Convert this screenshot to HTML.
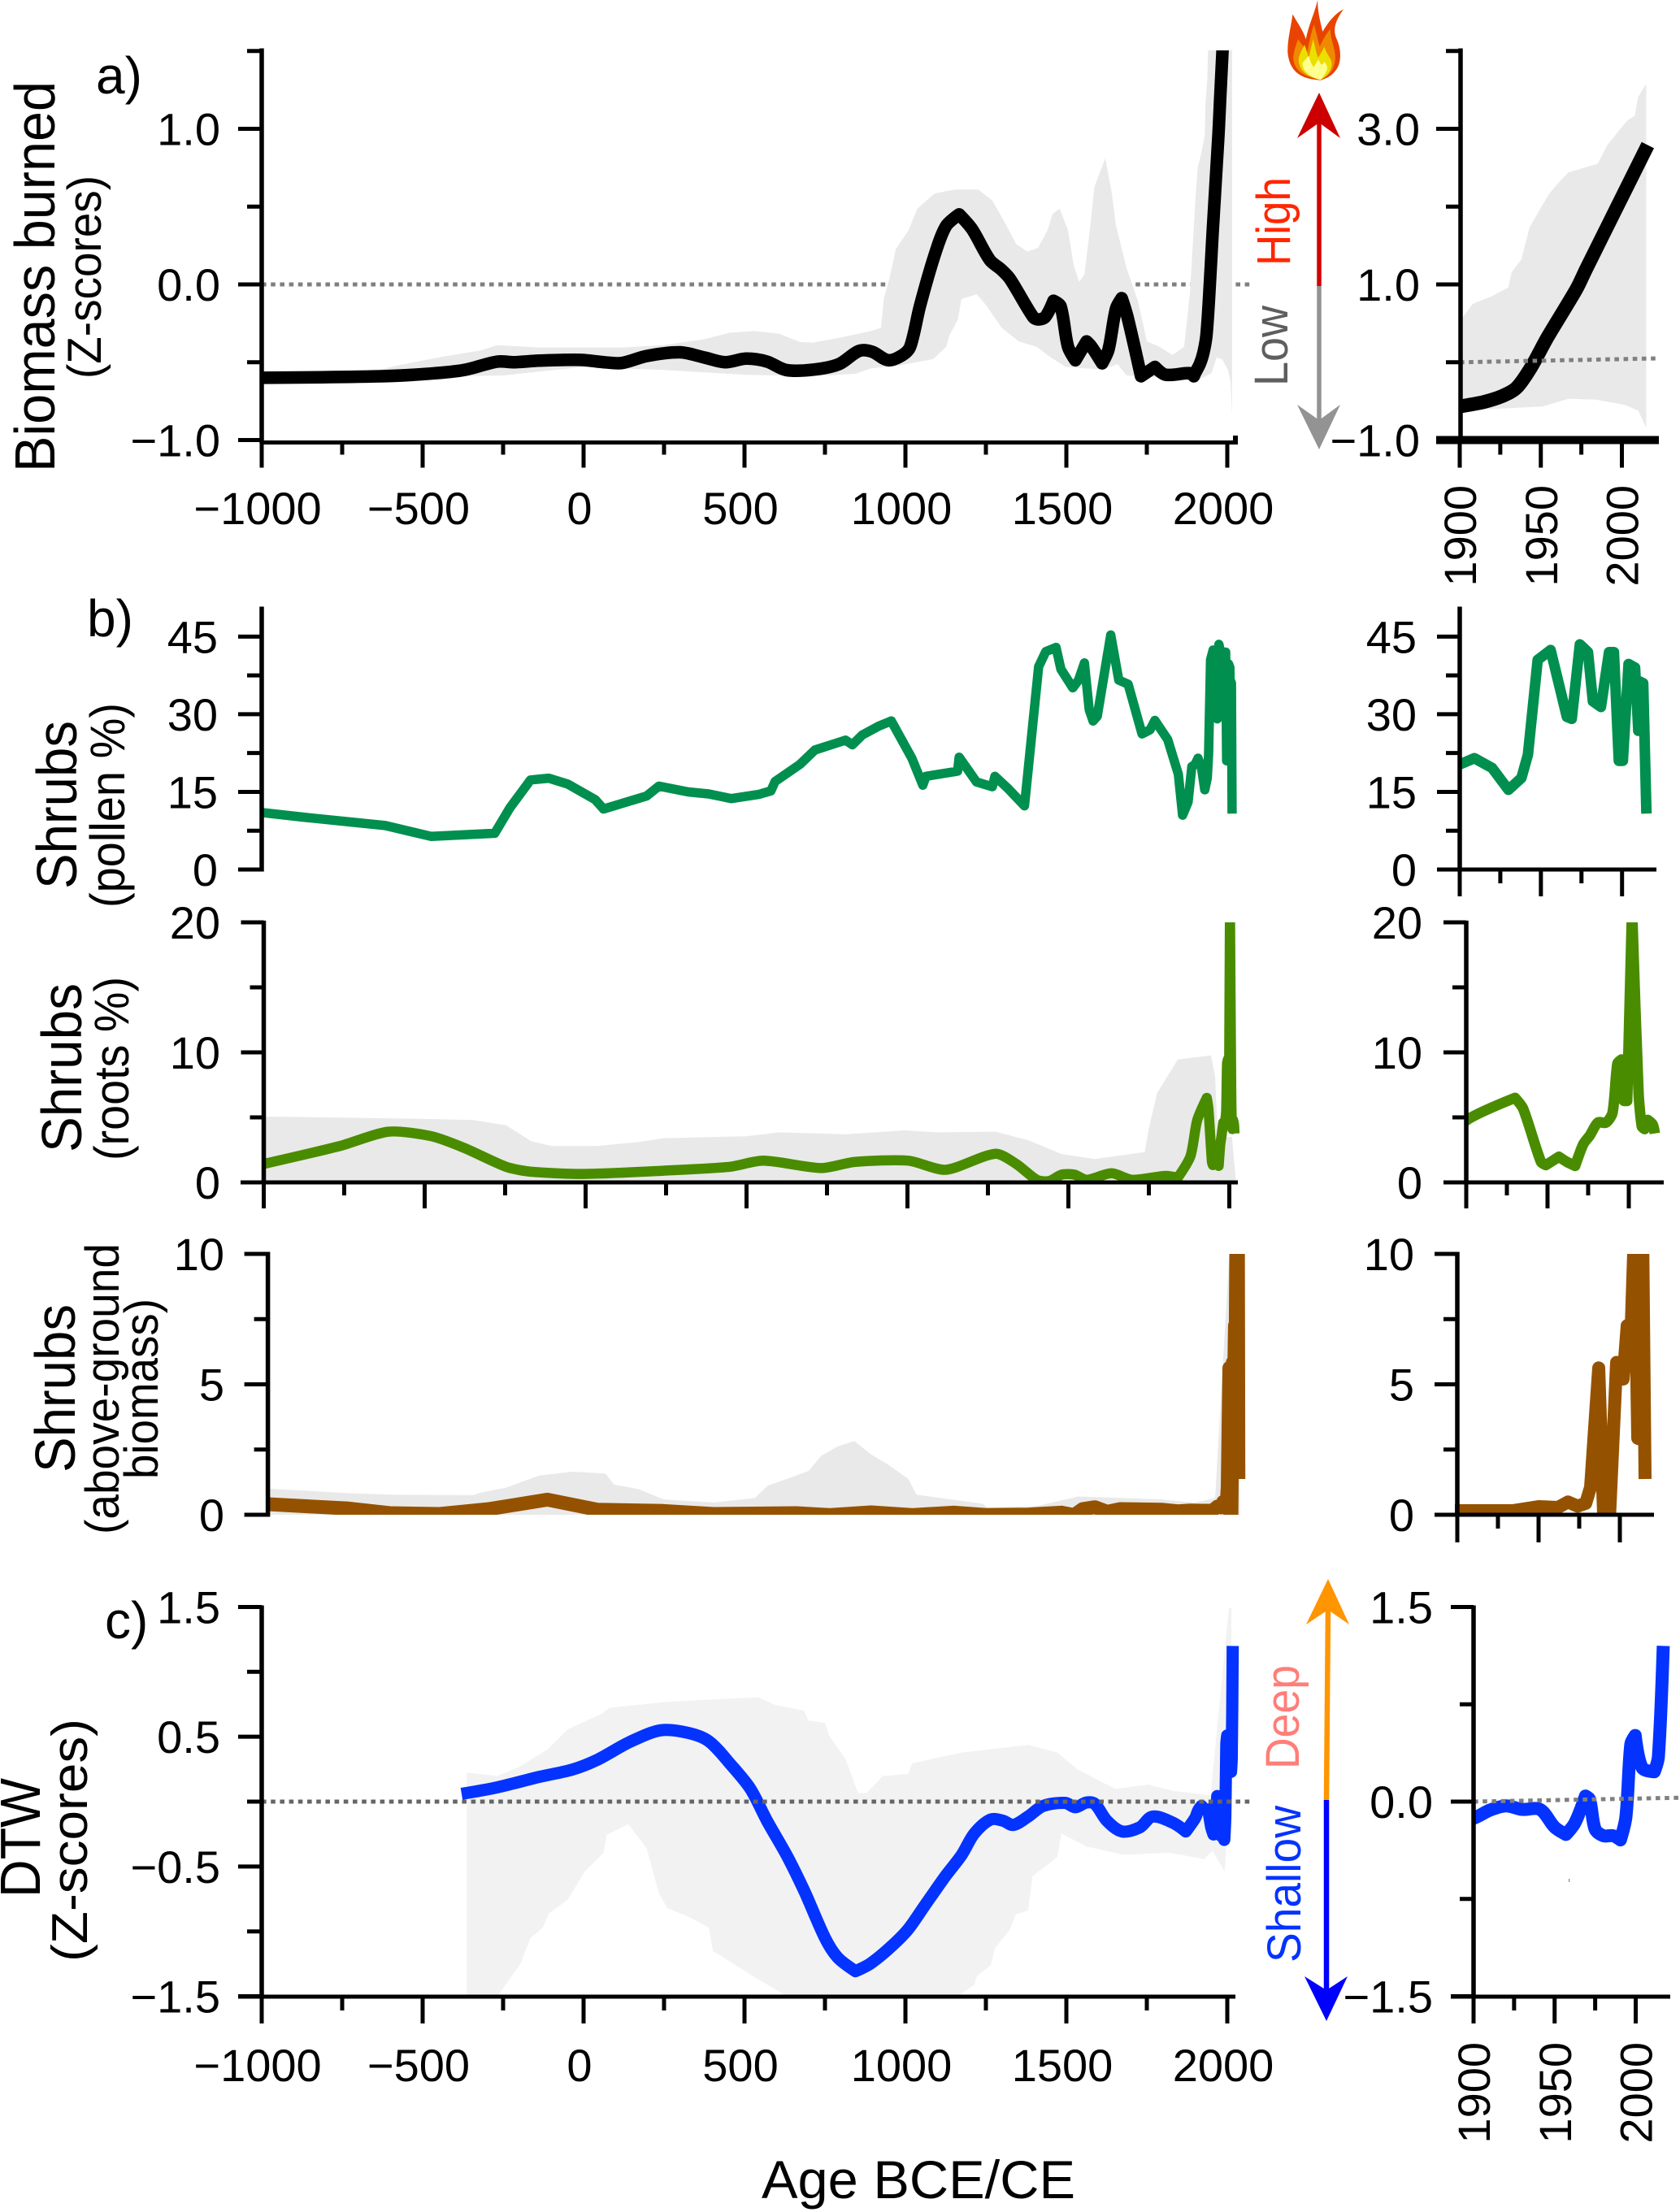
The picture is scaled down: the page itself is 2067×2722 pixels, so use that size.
<!DOCTYPE html>
<html lang="en">
<head>
<meta charset="utf-8">
<title>Biomass burned, shrubs and DTW</title>
<style>
html,body{margin:0;padding:0;background:#fff;}
svg{display:block;}
text{font-family:"Liberation Sans",Arial,sans-serif;fill:#000;}
</style>
</head>
<body>
<svg id="chart" xmlns="http://www.w3.org/2000/svg" width="2067" height="2722" viewBox="0 0 2067 2722">
<rect x="0" y="0" width="2067" height="2722" fill="#fff"/>
<defs>
<clipPath id="clipA"><rect x="300" y="62" width="1300" height="482"/></clipPath>
<clipPath id="clipAi"><rect x="1797" y="62" width="270" height="480"/></clipPath>
<clipPath id="clipP"><rect x="322" y="749" width="1300" height="321"/></clipPath>
<clipPath id="clipPi"><rect x="1796" y="749" width="270" height="321"/></clipPath>
<clipPath id="clipR"><rect x="324" y="1135" width="1300" height="320"/></clipPath>
<clipPath id="clipRi"><rect x="1804" y="1135" width="260" height="320"/></clipPath>
<clipPath id="clipB"><rect x="329" y="1543" width="1300" height="321"/></clipPath>
<clipPath id="clipBi"><rect x="1790" y="1543" width="270" height="321"/></clipPath>
<clipPath id="clipC"><rect x="322" y="1975" width="1300" height="482"/></clipPath>
<clipPath id="clipCi"><rect x="1813" y="1975" width="254" height="482"/></clipPath>
</defs>

<!-- panel letters -->
<text x="118" y="115" font-size="64">a)</text>
<text x="107" y="783" font-size="64">b)</text>
<text x="129" y="2016" font-size="64">c)</text>

<!-- y-axis titles -->
<text transform="translate(67,581) rotate(-90)" font-size="70" textLength="481" lengthAdjust="spacingAndGlyphs">Biomass burned</text>
<text transform="translate(124,466) rotate(-90)" font-size="58" textLength="250" lengthAdjust="spacingAndGlyphs">(Z-scores)</text>
<text transform="translate(94,1094) rotate(-90)" font-size="70" textLength="207" lengthAdjust="spacingAndGlyphs">Shrubs</text>
<text transform="translate(153,1117) rotate(-90)" font-size="60" textLength="252" lengthAdjust="spacingAndGlyphs">(pollen %)</text>
<text transform="translate(100,1418) rotate(-90)" font-size="70" textLength="208" lengthAdjust="spacingAndGlyphs">Shrubs</text>
<text transform="translate(158,1428) rotate(-90)" font-size="60" textLength="226" lengthAdjust="spacingAndGlyphs">(roots %)</text>
<text transform="translate(92,1812) rotate(-90)" font-size="70" textLength="207" lengthAdjust="spacingAndGlyphs">Shrubs</text>
<text transform="translate(146,1888) rotate(-90)" font-size="58" textLength="358" lengthAdjust="spacingAndGlyphs">(above-ground</text>
<text transform="translate(194,1820) rotate(-90)" font-size="58" textLength="222" lengthAdjust="spacingAndGlyphs">biomass)</text>
<text transform="translate(49,2335) rotate(-90)" font-size="70" textLength="147" lengthAdjust="spacingAndGlyphs">DTW</text>
<text transform="translate(107,2414) rotate(-90)" font-size="62" textLength="299" lengthAdjust="spacingAndGlyphs">(Z-scores)</text>
<text x="937" y="2705" font-size="66" textLength="386" lengthAdjust="spacingAndGlyphs">Age BCE/CE</text>

<!-- direction arrows -->
<g transform="translate(1500,0) scale(0.3617,0.4591)">
<path fill="#e84300" d="M345,215 C290,212 240,200 233,140 C232,105 245,70 250,38 C265,60 285,80 295,105 C305,65 325,35 335,0 C335,35 345,60 352,85 C370,60 395,35 423,25 C395,55 385,80 400,105 C415,130 418,170 395,190 C380,205 365,210 345,215 Z"/>
<path fill="#ef8a00" d="M345,212 C300,208 255,195 252,155 C254,135 262,120 268,105 C280,118 292,128 300,140 C305,115 315,85 322,65 C330,85 335,105 342,125 C352,108 365,90 378,78 C378,105 395,130 395,155 C393,190 370,205 345,212 Z"/>
<path fill="#eae000" d="M345,214 C310,208 272,195 270,160 C272,145 285,130 290,120 C296,130 300,145 305,155 C310,135 315,120 320,105 C326,125 330,140 336,155 C345,145 352,135 358,125 C362,145 385,155 383,175 C378,195 365,205 345,214 Z"/>
<path fill="#ffff90" d="M345,214 C315,208 285,195 283,170 C290,162 298,155 305,150 C310,165 315,175 322,180 C328,172 332,165 338,160 C345,172 350,180 358,165 C365,175 372,180 365,190 C360,200 352,208 345,214 Z"/>
</g>
<line x1="1623" y1="148" x2="1623" y2="352" stroke="#d40000" stroke-width="5.5"/>
<polygon points="1623,114 1649,170 1623,151 1596,170" fill="#cc0000"/>
<line x1="1623" y1="352" x2="1623" y2="520" stroke="#939393" stroke-width="5.5"/>
<polygon points="1623,553 1649,498 1623,517 1596,498" fill="#939393"/>
<text transform="translate(1587,327) rotate(-90)" font-size="58" textLength="109" lengthAdjust="spacingAndGlyphs" style="fill:#ff2600">High</text>
<text transform="translate(1584,475) rotate(-90)" font-size="58" textLength="99" lengthAdjust="spacingAndGlyphs" style="fill:#5e5e5e">Low</text>

<line x1="1634" y1="1978" x2="1632" y2="2216" stroke="#ff9500" stroke-width="6.5"/>
<polygon points="1634,1943 1660,1999 1634,1981 1607,1999" fill="#ff9500"/>
<line x1="1632" y1="2215" x2="1632" y2="2452" stroke="#0000ff" stroke-width="6.5"/>
<polygon points="1632,2487 1658,2432 1632,2449 1605,2432" fill="#0000ff"/>
<text transform="translate(1598,2177) rotate(-90)" font-size="58" textLength="128" lengthAdjust="spacingAndGlyphs" style="fill:#ff7e79">Deep</text>
<text transform="translate(1600,2415) rotate(-90)" font-size="58" textLength="193" lengthAdjust="spacingAndGlyphs" style="fill:#0433ff">Shallow</text>
<rect x="1930" y="2312" width="1.2" height="4" fill="#888"/>
</svg>

<script>
/* ===== panel a: biomass burned (Z-scores) ===== */
const biomassYears = [-1000,-629,-474,-371,-268,-216,-139,-10,65,119,196,300,376,440,505,570,629,712,793,856,897,947,992,1015,1045,1091,1126,1167,1207,1262,1298,1325,1397,1412,1434,1460,1482,1505,1528,1563,1578,1611,1631,1654,1672,1690,1732,1775,1808,1884,1896,1900,1915,1926,1935,1944,1954,1972,1978,2016];
const biomassValues = [-0.60,-0.59,-0.573,-0.55,-0.496,-0.50,-0.49,-0.485,-0.50,-0.505,-0.46,-0.436,-0.47,-0.50,-0.477,-0.496,-0.55,-0.548,-0.513,-0.427,-0.433,-0.487,-0.453,-0.40,-0.14,0.19,0.375,0.45,0.355,0.157,0.095,0.035,-0.21,-0.225,-0.21,-0.105,-0.14,-0.40,-0.487,-0.366,-0.40,-0.507,-0.418,-0.157,-0.088,-0.209,-0.59,-0.53,-0.58,-0.57,-0.59,-0.57,-0.51,-0.437,-0.33,-0.065,0.316,0.94,1.2,2.79];
const biomassUpperYears = [-680,-577,-448,-320,-268,-139,119,247,376,454,531,608,673,712,802,892,924,933,952,970,1010,1037,1091,1154,1226,1270,1308,1344,1379,1412,1442,1457,1479,1505,1523,1540,1556,1573,1587,1621,1641,1654,1687,1722,1750,1786,1830,1866,1884,1902,1908,1919,1930,1932,1938,1943,1949,1955,1961,1967,1985,1991,2003,2008,2010,2015];
const biomassUpperValues = [-0.57,-0.52,-0.468,-0.424,-0.39,-0.405,-0.405,-0.39,-0.352,-0.31,-0.30,-0.317,-0.37,-0.374,-0.34,-0.30,-0.28,-0.088,0.052,0.226,0.35,0.487,0.585,0.61,0.61,0.54,0.40,0.26,0.21,0.235,0.35,0.454,0.487,0.35,0.12,0.016,0.063,0.35,0.627,0.81,0.59,0.38,0.104,-0.104,-0.366,-0.397,-0.454,-0.40,-0.052,0.58,0.75,0.84,0.96,1.157,1.32,1.73,1.95,2.16,2.31,2.44,2.55,2.79,3.1,3.17,3.41,3.58];
const biomassLowerYears = [-680,-250,0,250,500,712,847,892,982,1086,1127,1136,1163,1174,1222,1253,1298,1352,1407,1452,1498,1614,1659,1687,1800,1902,1951,1967,1984,2002,2010,2015];
const biomassLowerValues = [-0.60,-0.585,-0.53,-0.55,-0.58,-0.59,-0.574,-0.54,-0.52,-0.48,-0.40,-0.33,-0.225,-0.094,-0.063,-0.14,-0.277,-0.366,-0.40,-0.47,-0.53,-0.548,-0.512,-0.585,-0.60,-0.62,-0.57,-0.47,-0.48,-0.55,-0.62,-0.84];
const biomassRefYears = [-1000,2075];
const biomassRefValues = [0,0];
const biomassInsetRefYears = [1900,2023];
const biomassInsetRefValues = [0,0.05];

/* ===== panel b: shrubs, pollen % ===== */
const pollenYears = [-1000,-861,-616,-474,-276,-229,-165,-108,-49,36,62,196,234,325,389,459,544,582,595,672,719,814,835,866,917,956,1020,1054,1064,1162,1167,1221,1270,1278,1318,1370,1414,1436,1468,1483,1520,1538,1556,1571,1583,1596,1638,1663,1692,1735,1760,1775,1815,1848,1861,1878,1890,1900,1909,1920,1930,1938,1942,1948,1956,1966,1969,1974,1979,1982,1987,1992,1995,1998,2000.5,2004,2008,2010,2011,2013,2015];
const pollenValues = [11.0,10.05,8.5,6.4,7.0,11.9,17.3,17.65,16.5,13.5,11.7,14.2,16.1,15.0,14.6,13.7,14.5,15.2,17.0,20.3,23.1,25.0,24.1,26.0,27.7,28.7,21.5,16.3,18.0,19.0,21.7,16.9,16.0,18.0,15.7,12.3,39.2,42.1,42.9,38.7,35.1,36.6,39.9,30.9,28.7,29.6,45.3,36.6,35.8,26.2,27,28.8,25.1,18.4,10.5,13,19.9,20.3,21.5,19.6,15.4,17.7,22.2,40.5,42.4,29.5,29.1,43.5,42,32.5,31.4,42,42,21,21,39.7,39,26.8,36.3,36,10.8];

/* ===== panel b: shrubs, roots % ===== */
const rootsYears = [-1000,-763,-613,-479,-376,-247,-170,-3,242,448,552,732,835,1003,1119,1273,1338,1402,1440,1479,1518,1557,1634,1698,1802,1840,1879,1900,1930,1935,1946,1949,1957,1962,1967,1972,1976,1981,1986,1990,1993,1995.5,1997,1999,2002,2006,2008,2009.7,2011.7,2014.7,2016];
const rootsValues = [1.42,2.8,3.9,3.55,2.64,1.2,0.82,0.65,0.9,1.2,1.67,1.1,1.57,1.67,0.97,2.2,1.42,0.2,0.1,0.6,0.6,0.2,0.7,0.2,0.5,0.36,2.0,4.76,6.5,5.67,1.57,1.33,1.97,1.57,1.27,2.94,3.6,4.6,4.6,5.36,9.15,9.45,6.27,6.27,21,6.9,4.3,4.1,4.8,4.45,3.76];
const rootsUpperYears = [-1000,-531,-350,-247,-170,-106,36,165,242,500,603,809,990,1093,1273,1376,1479,1582,1737,1750,1776,1840,1943,1956,1964,2008,2020];
const rootsUpperValues = [5.06,4.9,4.8,4.4,3.18,2.8,2.8,3.1,3.4,3.55,3.85,3.7,4.0,3.85,3.9,3.24,2.18,1.8,2.33,4.15,6.9,9.45,9.76,8.1,3.5,3.5,0.2];
const rootsLowerYears = [-1000,2020];
const rootsLowerValues = [0,0];

/* ===== panel b: shrubs, above-ground biomass ===== */
const shrubBiomassYears = [-1000,-750,-621,-466,-312,-131,23,229,384,642,745,874,1003,1131,1235,1363,1466,1505,1531,1570,1608,1647,1776,1827,1866,1900,1934,1950,1962,1968,1974,1979,1982,1987,1990,1993.7,1998,2002,2004.5,2007,2009,2011,2012.5,2014,2015.5];
const shrubBiomassValues = [0.406,0.24,0.0625,0.03,0.22,0.58,0.197,0.145,0.03,0.0625,-0.01,0.094,-0.01,0.083,-0.01,0.01,0.083,-0.01,0.218,0.29,0.114,0.218,0.197,0.135,0.166,0.156,0.156,0.31,0.28,0.49,0.33,0.44,1.06,5.63,0,0,5.84,5.2,7.25,7.2,11,2.93,2.9,11,1.37];
const shrubUpperYears = [-1000,-750,-621,-363,-338,-260,-157,-54,49,75,152,229,384,513,552,616,680,719,771,822,874,925,990,1015,1221,1235,1389,1518,1776,1879,1943,1987,2020];
const shrubUpperValues = [1.0,0.83,0.77,0.75,0.85,1.04,1.5,1.65,1.58,1.16,0.98,0.59,0.47,0.64,1.11,1.39,1.68,2.26,2.62,2.83,2.31,1.94,1.37,0.77,0.42,0.28,0.33,0.7,0.59,0.46,0.64,10,10];
const shrubLowerYears = [-1000,2020];
const shrubLowerValues = [0,0];

/* ===== panel c: DTW (Z-scores) ===== */
const dtwYears = [-379,-268,-139,-36,41,144,240,325,389,454,518,570,634,686,750,789,845,892,956,1008,1059,1124,1175,1214,1265,1304,1335,1381,1428,1497,1528,1562,1588,1626,1673,1729,1768,1832,1871,1900.5,1910,1920,1930,1941,1950,1957,1962.5,1969,1971.6,1975,1980,1986,1990.6,1994,1997,1999.7,2004,2011.5,2014,2017];
const dtwValues = [0.06,0.11,0.19,0.246,0.32,0.46,0.55,0.53,0.466,0.295,0.1,-0.148,-0.427,-0.69,-1.05,-1.2,-1.307,-1.247,-1.116,-0.985,-0.804,-0.575,-0.41,-0.246,-0.138,-0.148,-0.18,-0.115,-0.033,-0.01,-0.043,-0.007,-0.016,-0.148,-0.23,-0.197,-0.115,-0.164,-0.23,-0.125,-0.066,-0.033,-0.06,-0.06,-0.197,-0.253,-0.164,0.043,0.016,-0.213,-0.263,-0.263,-0.295,-0.115,0.443,0.51,0.26,0.23,0.345,1.2];
const dtwUpperYears = [-363,-268,-204,-113,-49,54,80,247,325,544,595,686,698,750,763,814,853,879,930,1008,1021,1175,1381,1472,1536,1652,1755,1832,1948,2005,2013];
const dtwUpperValues = [0.223,0.197,0.263,0.4,0.558,0.673,0.722,0.765,0.778,0.804,0.745,0.7,0.624,0.607,0.509,0.328,0.066,0.066,0.197,0.213,0.295,0.378,0.437,0.378,0.246,0.098,0.131,0.082,0.049,1.49,1.49];
const dtwLowerYears = [-363,-268,-196,-165,-126,-108,-49,3,62,72,139,196,234,260,325,389,402,536,634,1162,1214,1222,1265,1278,1325,1343,1381,1395,1472,1484,1562,1678,1820,1928,1954,1992,2005,2013];
const dtwLowerValues = [-1.5,-1.5,-1.25,-1.05,-0.97,-0.863,-0.755,-0.54,-0.394,-0.256,-0.174,-0.36,-0.706,-0.82,-0.886,-0.97,-1.15,-1.36,-1.5,-1.5,-1.41,-1.346,-1.26,-1.13,-0.985,-0.87,-0.837,-0.575,-0.427,-0.246,-0.345,-0.41,-0.394,-0.443,-0.378,-0.54,0,0];
const dtwRefYears = [-1000,2080];
const dtwRefValues = [0,0];
const dtwInsetRefYears = [1900,2028];
const dtwInsetRefValues = [0,0.03];

/* ===== tick arrays ===== */
const mainXMajor = [-1000,-500,0,500,1000,1500,2000];
const mainXMinor = [-750,-250,250,750,1250,1750];
const mainXLabels = ['\u22121000','\u2212500','0','500','1000','1500','2000'];
const insetXMajor = [1900,1950,2000];
const insetXMinor = [1925,1975];
const insetXLabels = ['1900','1950','2000'];

const biomassYMajor = [1,0,-1];
const biomassYMinor = [1.5,0.5,-0.5];
const biomassYLabels = ['1.0','0.0','\u22121.0'];
const biomassInsetYMajor = [3,1,-1];
const biomassInsetYMinor = [4,2,0];
const biomassInsetYLabels = ['3.0','1.0','\u22121.0'];
const pollenYMajor = [45,30,15,0];
const pollenYMinor = [37.5,22.5,7.5];
const pollenYLabels = ['45','30','15','0'];
const rootsYMajor = [20,10,0];
const rootsYMinor = [15,5];
const rootsYLabels = ['20','10','0'];
const shrubYMajor = [10,5,0];
const shrubYMinor = [7.5,2.5];
const shrubYLabels = ['10','5','0'];
const dtwYMajor = [1.5,0.5,-0.5,-1.5];
const dtwYMinor = [1,0,-1];
const dtwYLabels = ['1.5','0.5','\u22120.5','\u22121.5'];
const dtwInsetYMajor = [1.5,0,-1.5];
const dtwInsetYMinor = [0.75,-0.75];
const dtwInsetYLabels = ['1.5','0.0','\u22121.5'];

/* ===== drawing helpers ===== */
const svg = document.getElementById('chart');
const NS = 'http://www.w3.org/2000/svg';

function add(tag, attrs, name) {
  const el = document.createElementNS(NS, tag);
  for (const k in attrs) { el.setAttribute(k, attrs[k]); }
  
  
  svg.appendChild(el);
  return el;
}
function pts(xs, ys, sx, sy) {
  return xs.map((x, i) => sx(x).toFixed(1) + ',' + sy(ys[i]).toFixed(1)).join(' ');
}
function curve(xs, ys, sx, sy, k) {
  const p = xs.map((x, i) => [sx(x), sy(ys[i])]);
  const unit = (a, b) => {
    const dx = b[0] - a[0];
    const dy = b[1] - a[1];
    const n = Math.hypot(dx, dy) || 1;
    return [dx / n, dy / n];
  };
  const tan = i => {
    if (i === 0 || i === p.length - 1) { return [0, 0]; }
    const u = unit(p[i - 1], p[i]);
    const v = unit(p[i], p[i + 1]);
    if (u[0] * v[0] + u[1] * v[1] < 0.45) { return [0, 0]; }
    return unit(p[i - 1], p[i + 1]);
  };
  let d = 'M' + p[0][0].toFixed(1) + ' ' + p[0][1].toFixed(1);
  for (let i = 0; i < p.length - 1; i++) {
    const len = Math.hypot(p[i + 1][0] - p[i][0], p[i + 1][1] - p[i][1]);
    const t1 = tan(i);
    const t2 = tan(i + 1);
    d += ' C' + (p[i][0] + t1[0] * len * k).toFixed(1) + ' ' + (p[i][1] + t1[1] * len * k).toFixed(1) + ' ' +
      (p[i + 1][0] - t2[0] * len * k).toFixed(1) + ' ' + (p[i + 1][1] - t2[1] * len * k).toFixed(1) + ' ' +
      p[i + 1][0].toFixed(1) + ' ' + p[i + 1][1].toFixed(1);
  }
  return d;
}
function band(upX, upY, loX, loY, sx, sy, clip, fill, name) {
  const lx = loX.slice().reverse();
  const ly = loY.slice().reverse();
  add('polygon', {points: pts(upX, upY, sx, sy) + ' ' + pts(lx, ly, sx, sy), fill: fill, 'clip-path': 'url(#' + clip + ')'}, name);
}
function series(xs, ys, sx, sy, clip, color, w, k, name) {
  add('path', {d: curve(xs, ys, sx, sy, k), fill: 'none', stroke: color, 'stroke-width': w, 'stroke-linejoin': 'round', 'stroke-linecap': 'butt', 'clip-path': 'url(#' + clip + ')'}, name);
}
function dotted(xs, ys, sx, sy, color, name) {
  add('polyline', {points: pts(xs, ys, sx, sy), fill: 'none', stroke: color, 'stroke-width': 5, 'stroke-dasharray': '5.6 5.6'}, name);
}
function seg(x1, y1, x2, y2, w, name) {
  add('line', {x1: x1, y1: y1, x2: x2, y2: y2, stroke: '#000', 'stroke-width': w}, name);
}
function yAxis(opt) {
  seg(opt.x, opt.top - 2.5, opt.x, opt.bottom + 2.5, 5.5, opt.name + '-line');
  opt.major.forEach((v, i) => {
    const y = opt.sy(v);
    seg(opt.x, y, opt.x - opt.longTick, y, 5, opt.name + '-major-tick');
    const t = add('text', {x: opt.labelRight, y: y + opt.baseline, 'font-size': opt.fontSize, 'text-anchor': 'end'}, opt.name + '-tick-label');
    t.textContent = opt.labels[i];
  });
  opt.minor.forEach(v => {
    const y = opt.sy(v);
    seg(opt.x, y, opt.x - opt.shortTick, y, 5, opt.name + '-minor-tick');
  });
}
function xAxis(opt) {
  seg(opt.left, opt.y, opt.right, opt.y, opt.width, opt.name + '-line');
  opt.major.forEach(v => {
    seg(opt.sx(v), opt.y, opt.sx(v), opt.y + opt.longTick, 5, opt.name + '-major-tick');
  });
  opt.minor.forEach(v => {
    seg(opt.sx(v), opt.y, opt.sx(v), opt.y + opt.shortTick, 5, opt.name + '-minor-tick');
  });
  if (opt.labels && opt.labelMode === 'main') {
    opt.major.forEach((v, i) => {
      const t = add('text', {x: opt.sx(v) - 5, y: opt.labelY, 'font-size': 56, 'text-anchor': 'middle'}, opt.name + '-tick-label');
      t.textContent = opt.labels[i];
    });
  }
  if (opt.labels && opt.labelMode === 'rotated') {
    opt.major.forEach((v, i) => {
      const x = opt.sx(v) + 20;
      const t = add('text', {transform: 'translate(' + x + ',' + opt.labelY + ') rotate(-90)', 'font-size': 56, 'text-anchor': 'end'}, opt.name + '-tick-label');
      t.textContent = opt.labels[i];
    });
  }
}

/* ===== axis scales ===== */
const xA = y => 322 + (y + 1000) * 0.396;
const yA = v => 350 - v * 191.5;
const xAi = y => 1796 + (y - 1900) * 1.995;
const yAi = v => 350 - (v - 1) * 95.75;
const xP = y => 322 + (y + 1000) * 0.396;
const yP = v => 1070 - v * 6.37;
const xPi = y => 1796 + (y - 1900) * 1.997;
const xR = y => 324.5 + (y + 1000) * 0.396;
const yR = v => 1455 - v * 16;
const xRi = y => 1804 + (y - 1900) * 2;
const xB = y => 329.6 + (y + 1000) * 0.396;
const yB = v => 1864 - v * 32.1;
const xBi = y => 1793 + (y - 1900) * 2;
const xC = y => 322 + (y + 1000) * 0.396;
const yC = v => 2217 - v * 159.7;
const xCi = y => 1813 + (y - 1900) * 1.995;

/* ===== panel a ===== */
dotted(biomassRefYears, biomassRefValues, xA, yA, '#808080', 'biomass-zero-line');
band(biomassUpperYears, biomassUpperValues, biomassLowerYears, biomassLowerValues, xA, yA, 'clipA', '#e9e9e9', 'biomass-uncertainty-band');
series(biomassYears, biomassValues, xA, yA, 'clipA', '#000', 15.5, 0.3, 'biomass-line');
yAxis({name: 'biomass-y-axis', x: 322, top: 62, bottom: 543, sy: yA, major: biomassYMajor, minor: biomassYMinor, labels: biomassYLabels, longTick: 29, shortTick: 18, labelRight: 271, baseline: 20, fontSize: 56});
xAxis({name: 'biomass-x-axis', left: 320, right: 1523, y: 544.5, width: 5, sx: xA, major: mainXMajor, minor: mainXMinor, longTick: 31, shortTick: 15, labels: mainXLabels, labelMode: 'main', labelY: 645});
seg(1520, 536, 1520, 547, 6, 'biomass-x-axis-end-tick');

band(biomassUpperYears, biomassUpperValues, biomassLowerYears, biomassLowerValues, xAi, yAi, 'clipAi', '#e9e9e9', 'biomass-inset-band');
series(biomassYears, biomassValues, xAi, yAi, 'clipAi', '#000', 17, 0.3, 'biomass-inset-line');
dotted(biomassInsetRefYears, biomassInsetRefValues, xAi, yAi, '#808080', 'biomass-inset-reference-line');
yAxis({name: 'biomass-inset-y-axis', x: 1797, top: 62, bottom: 541, sy: yAi, major: biomassInsetYMajor, minor: biomassInsetYMinor, labels: biomassInsetYLabels, longTick: 30, shortTick: 18, labelRight: 1747, baseline: 20, fontSize: 56});
xAxis({name: 'biomass-inset-x-axis', left: 1767, right: 2041, y: 541.5, width: 10, sx: xAi, major: insetXMajor, minor: insetXMinor, longTick: 34, shortTick: 18, labels: insetXLabels, labelMode: 'rotated', labelY: 597});

/* ===== panel b: pollen ===== */
series(pollenYears, pollenValues, xP, yP, 'clipP', '#008f4e', 11.5, 0, 'pollen-line');
yAxis({name: 'pollen-y-axis', x: 322, top: 749, bottom: 1070, sy: yP, major: pollenYMajor, minor: pollenYMinor, labels: pollenYLabels, longTick: 29, shortTick: 18, labelRight: 268, baseline: 20, fontSize: 56});

series(pollenYears, pollenValues, xPi, yP, 'clipPi', '#008f4e', 13, 0, 'pollen-inset-line');
yAxis({name: 'pollen-inset-y-axis', x: 1796, top: 749, bottom: 1070, sy: yP, major: pollenYMajor, minor: pollenYMinor, labels: pollenYLabels, longTick: 28, shortTick: 17, labelRight: 1743, baseline: 20, fontSize: 56});
xAxis({name: 'pollen-inset-x-axis', left: 1768, right: 2038, y: 1070, width: 5, sx: xPi, major: insetXMajor, minor: insetXMinor, longTick: 33, shortTick: 17});

/* ===== panel b: roots ===== */
band(rootsUpperYears, rootsUpperValues, rootsLowerYears, rootsLowerValues, xR, yR, 'clipR', '#e9e9e9', 'roots-uncertainty-band');
series(rootsYears, rootsValues, xR, yR, 'clipR', '#4a8c00', 12.5, 0.25, 'roots-line');
yAxis({name: 'roots-y-axis', x: 324.5, top: 1135.4, bottom: 1455, sy: yR, major: rootsYMajor, minor: rootsYMinor, labels: rootsYLabels, longTick: 28, shortTick: 17, labelRight: 271, baseline: 20, fontSize: 56});
xAxis({name: 'roots-x-axis', left: 296, right: 1523, y: 1455, width: 5, sx: xR, major: mainXMajor, minor: mainXMinor, longTick: 32, shortTick: 16});

series(rootsYears, rootsValues, xRi, yR, 'clipRi', '#4a8c00', 13, 0.25, 'roots-inset-line');
yAxis({name: 'roots-inset-y-axis', x: 1804, top: 1135.4, bottom: 1455, sy: yR, major: rootsYMajor, minor: rootsYMinor, labels: rootsYLabels, longTick: 28, shortTick: 17, labelRight: 1750, baseline: 20, fontSize: 56});
xAxis({name: 'roots-inset-x-axis', left: 1776, right: 2047, y: 1455, width: 5, sx: xRi, major: insetXMajor, minor: insetXMinor, longTick: 32, shortTick: 16});

/* ===== panel b: shrub biomass ===== */
band(shrubUpperYears, shrubUpperValues, shrubLowerYears, shrubLowerValues, xB, yB, 'clipB', '#e9e9e9', 'shrub-biomass-band');
series(shrubBiomassYears, shrubBiomassValues, xB, yB, 'clipB', '#945200', 17, 0, 'shrub-biomass-line');
yAxis({name: 'shrub-y-axis', x: 329.6, top: 1543, bottom: 1864, sy: yB, major: shrubYMajor, minor: shrubYMinor, labels: shrubYLabels, longTick: 29, shortTick: 17, labelRight: 276, baseline: 20, fontSize: 56});

series(shrubBiomassYears, shrubBiomassValues, xBi, yB, 'clipBi', '#945200', 16, 0, 'shrub-inset-line');
yAxis({name: 'shrub-inset-y-axis', x: 1793, top: 1543, bottom: 1864, sy: yB, major: shrubYMajor, minor: shrubYMinor, labels: shrubYLabels, longTick: 28, shortTick: 17, labelRight: 1740, baseline: 20, fontSize: 56});
xAxis({name: 'shrub-inset-x-axis', left: 1765, right: 2035, y: 1864, width: 5, sx: xBi, major: insetXMajor, minor: insetXMinor, longTick: 34, shortTick: 17});

/* ===== panel c ===== */
band(dtwUpperYears, dtwUpperValues, dtwLowerYears, dtwLowerValues, xC, yC, 'clipC', '#f2f2f2', 'dtw-uncertainty-band');
series(dtwYears, dtwValues, xC, yC, 'clipC', '#0433ff', 15, 0.3, 'dtw-line');
dotted(dtwRefYears, dtwRefValues, xC, yC, '#666666', 'dtw-zero-line');
yAxis({name: 'dtw-y-axis', x: 322, top: 1978, bottom: 2457, sy: yC, major: dtwYMajor, minor: dtwYMinor, labels: dtwYLabels, longTick: 29, shortTick: 18, labelRight: 271, baseline: 20, fontSize: 56});
xAxis({name: 'dtw-x-axis', left: 293, right: 1520, y: 2457, width: 5, sx: xC, major: mainXMajor, minor: mainXMinor, longTick: 33, shortTick: 17, labels: mainXLabels, labelMode: 'main', labelY: 2561});

series(dtwYears, dtwValues, xCi, yC, 'clipCi', '#0433ff', 16, 0.3, 'dtw-inset-line');
dotted(dtwInsetRefYears, dtwInsetRefValues, xCi, yC, '#808080', 'dtw-inset-reference-line');
yAxis({name: 'dtw-inset-y-axis', x: 1813, top: 1978, bottom: 2457, sy: yC, major: dtwInsetYMajor, minor: dtwInsetYMinor, labels: dtwInsetYLabels, longTick: 28, shortTick: 17, labelRight: 1763, baseline: 20, fontSize: 56});
xAxis({name: 'dtw-inset-x-axis', left: 1785, right: 2055, y: 2457, width: 5, sx: xCi, major: insetXMajor, minor: insetXMinor, longTick: 33, shortTick: 17, labels: insetXLabels, labelMode: 'rotated', labelY: 2513});
</script>
</body>
</html>
